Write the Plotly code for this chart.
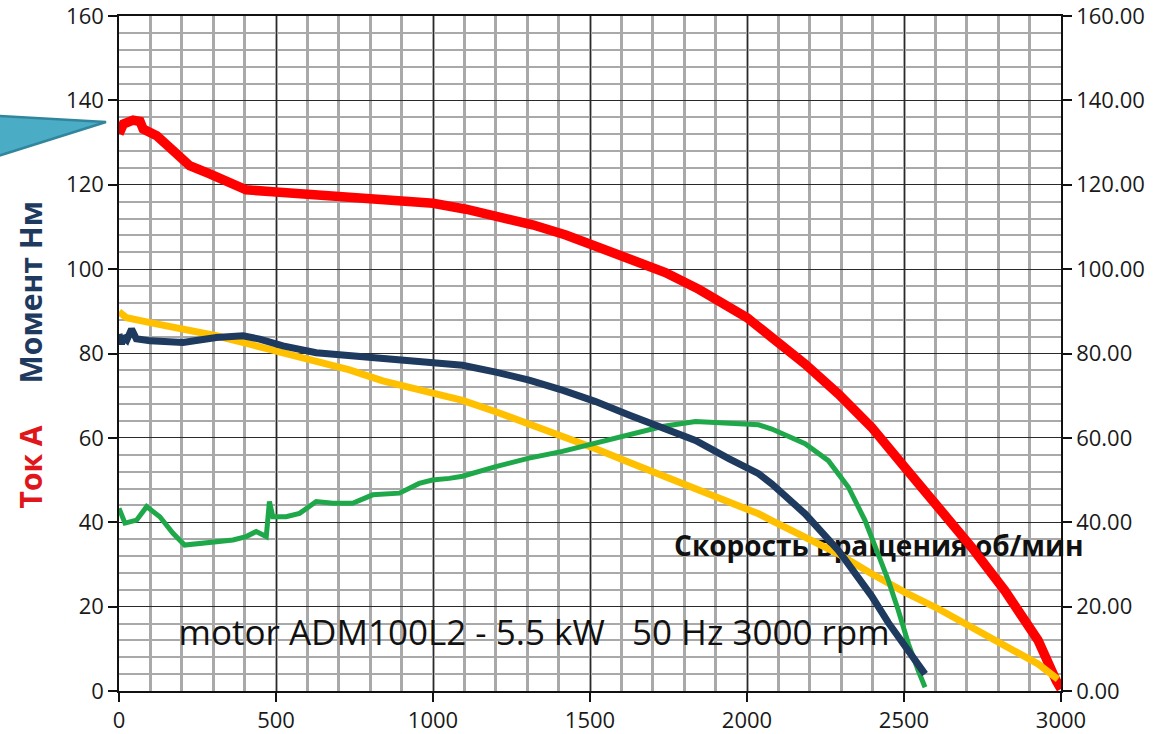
import plotly.graph_objects as go

# ---- data ----
current_x = [0, 14, 45, 67, 77, 120, 172, 225, 289, 352, 405, 500, 680, 839, 1000, 1105, 1211, 1317,
             1423, 1500, 1635, 1740, 1847, 1930, 2000, 2079, 2185, 2291, 2397, 2503, 2609, 2715, 2821,
             2927, 2985, 3000]
current_y = [132.1, 134.4, 135.3, 135.0, 133.2, 131.6, 128.1, 124.5, 122.6, 120.2, 118.8, 118.3, 117.2,
             116.6, 115.6, 114.2, 112.5, 110.5, 108.1, 106.0, 102.2, 99.2, 95.2, 91.6, 88.5, 83.8, 77.5,
             70.4, 62.5, 53.0, 43.6, 34.1, 23.8, 12.0, 2.4, 0.5]

yellow_x = [0, 24, 99, 204, 310, 416, 499, 628, 734, 840, 998, 1094, 1200, 1306, 1412, 1518, 1624,
            1730, 1836, 1942, 2037, 2079, 2185, 2291, 2397, 2503, 2609, 2715, 2821, 2927, 2990]
yellow_y = [89.9, 88.5, 87.3, 85.8, 84.2, 82.2, 80.6, 78.3, 76.1, 73.5, 70.8, 68.9, 66.2, 63.4, 60.5,
            57.4, 54.2, 51.1, 48.3, 45.1, 42.0, 40.4, 36.4, 32.5, 27.8, 23.4, 19.5, 15.1, 10.7, 6.4, 2.8]

torque_x = [0, 8, 13, 25, 40, 55, 99, 204, 310, 395, 448, 522, 628, 734, 840, 998, 1094, 1200, 1306,
            1412, 1518, 1624, 1730, 1836, 1942, 2037, 2079, 2185, 2291, 2397, 2450, 2503, 2567]
torque_y = [84.6, 82.2, 84.0, 83.2, 85.8, 83.5, 83.0, 82.6, 83.8, 84.2, 83.4, 81.8, 80.2, 79.5, 78.7,
            77.9, 77.2, 75.6, 73.7, 71.3, 68.6, 65.4, 62.6, 59.4, 55.1, 51.5, 49.1, 42.0, 33.3, 22.5,
            16.2, 10.7, 4.0]

green_x = [0, 19, 56, 88, 130, 172, 209, 257, 310, 363, 405, 437, 469, 479, 490, 532, 575, 628, 681,
           744, 808, 893, 956, 998, 1052, 1094, 1200, 1306, 1412, 1518, 1624, 1730, 1836, 1942, 2037,
           2079, 2185, 2259, 2323, 2376, 2418, 2450, 2482, 2514, 2545, 2567]
green_y = [43.3, 39.8, 40.5, 43.7, 41.3, 37.4, 34.6, 35.0, 35.4, 35.8, 36.6, 37.8, 36.6, 44.9, 41.3,
           41.3, 42.1, 44.9, 44.5, 44.5, 46.5, 46.9, 49.2, 50.0, 50.4, 50.9, 53.2, 55.2, 56.8, 58.8,
           60.7, 62.7, 63.9, 63.5, 63.1, 62.1, 58.6, 54.6, 48.3, 40.4, 32.5, 26.2, 19.1, 11.2, 4.9, 0.9]

x_ticks = [0, 500, 1000, 1500, 2000, 2500, 3000]
y_ticks = [0, 20, 40, 60, 80, 100, 120, 140, 160]

speed_label = "Скорость вращения об/мин"
motor_label = "motor ADM100L2 - 5.5 kW   50 Hz 3000 rpm"
current_title = "Ток А"
torque_title = "Момент Нм"

FONT = "Open Sans"
fig = go.Figure()

# texts (drawn beneath the curves)
fig.add_trace(go.Scatter(x=[2420], y=[33.6], mode="text", text=[speed_label], cliponaxis=False,
                         textfont=dict(family=FONT, size=28, color="#111111", weight="bold"),
                         hoverinfo="skip", showlegend=False))
fig.add_trace(go.Scatter(x=[1322], y=[13.0], mode="text", text=[motor_label], cliponaxis=False,
                         textfont=dict(family=FONT, size=35, color="#111111"),
                         hoverinfo="skip", showlegend=False))

fig.add_trace(go.Scatter(x=current_x, y=current_y, mode="lines", cliponaxis=False,
                         line=dict(color="#FF0000", width=9.5), showlegend=False))
fig.add_trace(go.Scatter(x=yellow_x, y=yellow_y, mode="lines", cliponaxis=False,
                         line=dict(color="#FFC000", width=7), showlegend=False))
fig.add_trace(go.Scatter(x=green_x, y=green_y, mode="lines", cliponaxis=False,
                         line=dict(color="#1FA84A", width=5), showlegend=False))
fig.add_trace(go.Scatter(x=torque_x, y=torque_y, mode="lines", cliponaxis=False,
                         line=dict(color="#1F3A5F", width=7), showlegend=False))
# secondary axis carrier (invisible)
fig.add_trace(go.Scatter(x=current_x, y=current_y, mode="lines", yaxis="y2",
                         line=dict(color="rgba(0,0,0,0)", width=0), hoverinfo="skip", showlegend=False))

tickfont = dict(family=FONT, size=22, color="#1a1a1a")
YR = [0, 160]
fig.update_layout(
    width=1159, height=734,
    margin=dict(l=119, r=98, t=16, b=43),
    paper_bgcolor="white", plot_bgcolor="white",
    xaxis=dict(range=[0, 3000], tickvals=x_ticks, ticks="outside", ticklen=9, tickwidth=1.5,
               tickcolor="#111", showline=True, mirror=True, linecolor="#111", linewidth=1.5,
               automargin=False, ticklabeloverflow="allow",
               showgrid=True, gridcolor="#2a2a2a", gridwidth=1.3, zeroline=False,
               minor=dict(dtick=100, showgrid=True, gridcolor="#a9a9a9", gridwidth=2.5),
               tickfont=tickfont),
    yaxis=dict(range=YR, tickmode="linear", tick0=0, dtick=20, ticks="outside", ticklen=9,
               tickwidth=1.5, ticklabeloverflow="allow",
               tickcolor="#111", showline=True, linecolor="#111", linewidth=1.5, automargin=False,
               showgrid=True, gridcolor="#2a2a2a", gridwidth=1.3, zeroline=False,
               minor=dict(dtick=4, showgrid=True, gridcolor="#a9a9a9", gridwidth=2),
               tickfont=tickfont),
    yaxis2=dict(range=YR, tickmode="linear", tick0=0, dtick=20, tickformat=".2f", overlaying="y",
                side="right", ticklabeloverflow="allow",
                ticks="outside", ticklen=9, tickwidth=1.5, tickcolor="#111", showline=True,
                automargin=False,
                linecolor="#111", linewidth=1.5, showgrid=False, zeroline=False, tickfont=tickfont),
    annotations=[
        dict(xref="paper", yref="paper", x=-0.094, y=(691 - 292) / 675, text=torque_title,
             textangle=-90, showarrow=False, xanchor="center", yanchor="middle",
             font=dict(family=FONT, size=30, color="#1F3A5F", weight="bold")),
        dict(xref="paper", yref="paper", x=-0.094, y=(691 - 467) / 675, text=current_title,
             textangle=-90, showarrow=False, xanchor="center", yanchor="middle",
             font=dict(family=FONT, size=30, color="#E0161B", weight="bold")),
    ],
    shapes=[
        dict(type="path", xref="paper", yref="paper",
             path=f"M {-121/942} {(691-116)/675} L {-13/942} {(691-122)/675} L {-121/942} {(691-156)/675} Z",
             fillcolor="#4BACC6", line=dict(color="#31859C", width=2.5), layer="above"),
    ],
)

fig.write_html("out.html", config={"displayModeBar": False},
               post_script="document.body.style.margin='0px';")
